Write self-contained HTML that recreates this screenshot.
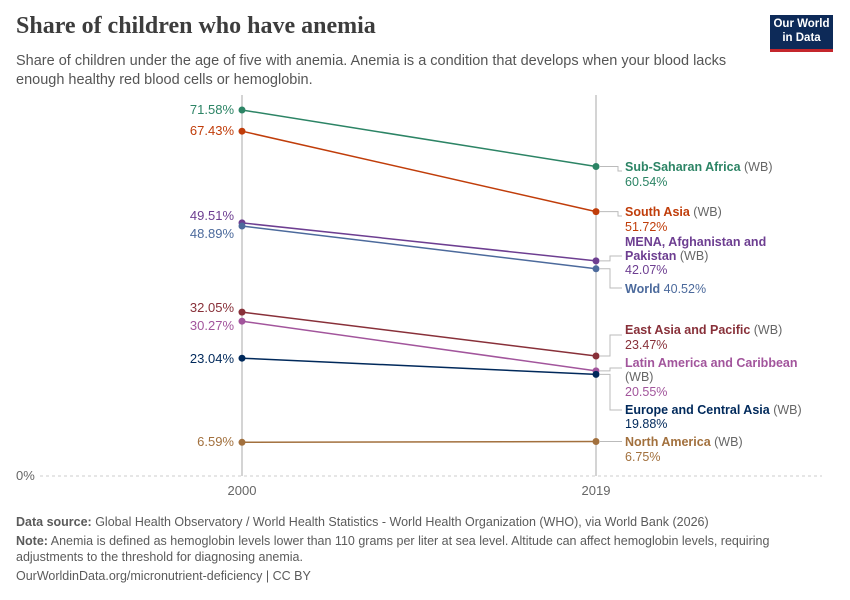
<!DOCTYPE html>
<html><head><meta charset="utf-8"><style>
body{margin:0;background:#fff;font-family:"Liberation Sans",sans-serif;}
.t{position:absolute;}
</style></head><body>
<div style="position:relative;width:850px;height:600px;overflow:hidden">
<div class="t" style="left:16px;top:13px;font-family:'Liberation Serif',serif;font-size:24px;font-weight:bold;color:#3d3d3d;">Share of children who have anemia</div>
<div class="t" style="left:16px;top:52px;font-size:14.5px;line-height:19px;color:#555;width:740px;">Share of children under the age of five with anemia. Anemia is a condition that develops when your blood lacks enough healthy red blood cells or hemoglobin.</div>
<div class="t" style="left:770px;top:15px;width:63px;height:37px;background:#0d2a58;color:#fff;font-size:11.5px;font-weight:bold;text-align:center;line-height:14px;padding-top:2px;box-sizing:border-box;border-bottom:3px solid #c4262c;">Our World<br>in Data</div>
<svg class="t" style="left:0;top:0" width="850" height="600" font-family="Liberation Sans, sans-serif" font-size="13">
<line x1="40" y1="476" x2="822" y2="476" stroke="#ccc" stroke-dasharray="3,3"/>
<text x="16" y="480" fill="#666">0%</text>
<line x1="242" y1="95" x2="242" y2="476" stroke="#aaa"/>
<line x1="596" y1="95" x2="596" y2="476" stroke="#aaa"/>
<text x="242" y="495" fill="#666" text-anchor="middle">2000</text>
<text x="596" y="495" fill="#666" text-anchor="middle">2019</text>
<g stroke-width="1.5">
<line x1="242" y1="110" x2="596" y2="166.5" stroke="#2c8465"/>
<line x1="242" y1="131.2" x2="596" y2="211.6" stroke="#c03d0a"/>
<line x1="242" y1="222.9" x2="596" y2="260.9" stroke="#6d3e91"/>
<line x1="242" y1="226" x2="596" y2="268.8" stroke="#4c6a9c"/>
<line x1="242" y1="312.1" x2="596" y2="356" stroke="#883039"/>
<line x1="242" y1="321.2" x2="596" y2="370.9" stroke="#a2559c"/>
<line x1="242" y1="358.2" x2="596" y2="374.4" stroke="#00295b"/>
<line x1="242" y1="442.3" x2="596" y2="441.5" stroke="#a2703d"/>
</g>
<g>
<circle cx="242" cy="110" r="3.5" fill="#2c8465"/><circle cx="596" cy="166.5" r="3.5" fill="#2c8465"/>
<circle cx="242" cy="131.2" r="3.5" fill="#c03d0a"/><circle cx="596" cy="211.6" r="3.5" fill="#c03d0a"/>
<circle cx="242" cy="222.9" r="3.5" fill="#6d3e91"/><circle cx="596" cy="260.9" r="3.5" fill="#6d3e91"/>
<circle cx="242" cy="226" r="3.5" fill="#4c6a9c"/><circle cx="596" cy="268.8" r="3.5" fill="#4c6a9c"/>
<circle cx="242" cy="312.1" r="3.5" fill="#883039"/><circle cx="596" cy="356" r="3.5" fill="#883039"/>
<circle cx="242" cy="321.2" r="3.5" fill="#a2559c"/><circle cx="596" cy="370.9" r="3.5" fill="#a2559c"/>
<circle cx="242" cy="358.2" r="3.5" fill="#00295b"/><circle cx="596" cy="374.4" r="3.5" fill="#00295b"/>
<circle cx="242" cy="442.3" r="3.5" fill="#a2703d"/><circle cx="596" cy="441.5" r="3.5" fill="#a2703d"/>
</g>
<g text-anchor="end">
<text x="234" y="114" fill="#2c8465">71.58%</text>
<text x="234" y="135" fill="#c03d0a">67.43%</text>
<text x="234" y="220" fill="#6d3e91">49.51%</text>
<text x="234" y="238" fill="#4c6a9c">48.89%</text>
<text x="234" y="312" fill="#883039">32.05%</text>
<text x="234" y="330" fill="#a2559c">30.27%</text>
<text x="234" y="363" fill="#00295b">23.04%</text>
<text x="234" y="446" fill="#a2703d">6.59%</text>
</g>
<g stroke="#bbb" fill="none">
<path d="M600 166.5H618V171H622"/>
<path d="M600 211.6H618V216H622"/>
<path d="M600 260.9H610V256H622"/>
<path d="M600 268.8H610V288H622"/>
<path d="M600 356H610V335H622"/>
<path d="M600 370.9H610V368H622"/>
<path d="M600 374.4H610V410H622"/>
<path d="M600 441.5H622"/>
</g>
<g font-size="12.5">
<text x="625" y="171"><tspan fill="#2c8465" font-weight="bold">Sub-Saharan Africa</tspan><tspan fill="#666"> (WB)</tspan></text>
<text x="625" y="186" fill="#2c8465">60.54%</text>
<text x="625" y="216"><tspan fill="#c03d0a" font-weight="bold">South Asia</tspan><tspan fill="#666"> (WB)</tspan></text>
<text x="625" y="231" fill="#c03d0a">51.72%</text>
<text x="625" y="246" fill="#6d3e91" font-weight="bold">MENA, Afghanistan and</text>
<text x="625" y="260"><tspan fill="#6d3e91" font-weight="bold">Pakistan</tspan><tspan fill="#666"> (WB)</tspan></text>
<text x="625" y="274" fill="#6d3e91">42.07%</text>
<text x="625" y="293"><tspan fill="#4c6a9c" font-weight="bold">World</tspan><tspan fill="#4c6a9c"> 40.52%</tspan></text>
<text x="625" y="334"><tspan fill="#883039" font-weight="bold">East Asia and Pacific</tspan><tspan fill="#666"> (WB)</tspan></text>
<text x="625" y="349" fill="#883039">23.47%</text>
<text x="625" y="367" fill="#a2559c" font-weight="bold">Latin America and Caribbean</text>
<text x="625" y="381" fill="#666">(WB)</text>
<text x="625" y="396" fill="#a2559c">20.55%</text>
<text x="625" y="414"><tspan fill="#00295b" font-weight="bold">Europe and Central Asia</tspan><tspan fill="#666"> (WB)</tspan></text>
<text x="625" y="428" fill="#00295b">19.88%</text>
<text x="625" y="446"><tspan fill="#a2703d" font-weight="bold">North America</tspan><tspan fill="#666"> (WB)</tspan></text>
<text x="625" y="461" fill="#a2703d">6.75%</text>
</g>
</svg>
<div class="t" style="left:16px;top:514px;font-size:12.5px;color:#5b5b5b;line-height:16px;width:780px;"><b>Data source:</b> Global Health Observatory / World Health Statistics - World Health Organization (WHO), via World Bank (2026)</div>
<div class="t" style="left:16px;top:533px;font-size:12.5px;color:#5b5b5b;line-height:16px;width:790px;"><b>Note:</b> Anemia is defined as hemoglobin levels lower than 110 grams per liter at sea level. Altitude can affect hemoglobin levels, requiring adjustments to the threshold for diagnosing anemia.</div>
<div class="t" style="left:16px;top:569px;font-size:12.5px;color:#5b5b5b;">OurWorldinData.org/micronutrient-deficiency | CC BY</div>
</div>
</body></html>
